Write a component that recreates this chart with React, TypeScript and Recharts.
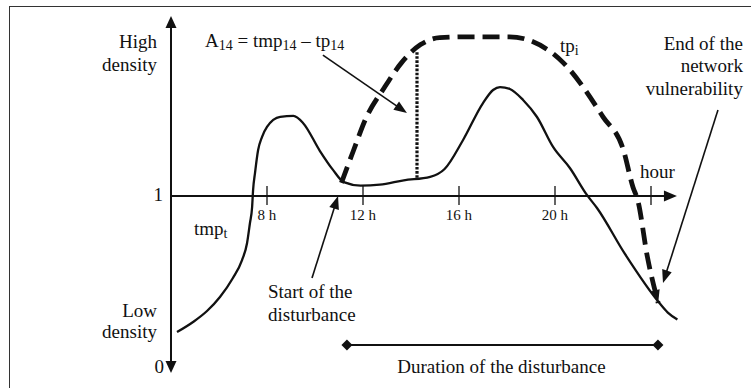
import React from "react";
import {
  LineChart,
  Line,
  XAxis,
  YAxis,
  ReferenceLine,
  ReferenceDot,
} from "recharts";

// tmp_t : observed density over the day (hour, density)
const tmpHours = [
  4.25, 4.92, 5.5, 6.04, 6.58, 6.96, 7.17, 7.29, 7.38, 7.42, 7.5, 7.63, 7.79,
  8.0, 8.55, 9.1, 9.5, 10.2, 10.75, 11.2, 11.9, 12.7, 13.7, 14.8, 15.4, 16.17,
  17.0, 17.42, 17.71, 18.12, 18.67, 19.25, 19.92, 20.62, 21.33, 21.75, 22.9,
  24.35, 24.7, 25.1,
];
const tmpValues = [
  0.218, 0.276, 0.339, 0.42, 0.529, 0.632, 0.73, 0.845, 0.937, 1.034, 1.132,
  1.264, 1.339, 1.397, 1.455, 1.46, 1.42, 1.26, 1.15, 1.08, 1.06, 1.065, 1.09,
  1.11, 1.155, 1.322, 1.534, 1.609, 1.626, 1.615, 1.552, 1.454, 1.282, 1.161,
  1.006, 0.931, 0.67, 0.385, 0.33, 0.29,
];

// tp_i : density during the disturbance
const tpHours = [
  11.1, 11.6, 12.1, 12.9, 13.6, 14.4, 15.2, 16.5, 18.1, 19.9, 20.35, 22.0,
  22.85, 23.25, 23.45, 23.85, 24.3,
];
const tpValues = [
  1.075, 1.26, 1.44, 1.625, 1.765, 1.87, 1.91, 1.915, 1.915, 1.82, 1.765,
  1.455, 1.265, 1.05, 0.975, 0.65, 0.385,
];

const tickHours = [8, 12, 16, 20, 24];
const tickLabels = ["8 h", "12 h", "16 h", "20 h", ""];

const tmpData = tmpHours.map((h, i) => ({ h, v: tmpValues[i] }));
const tpData = tpHours.map((h, i) => ({ h, v: tpValues[i] }));

const INK = "#111";
const FONT = "'Liberation Serif', 'Times New Roman', 'DejaVu Serif', serif";

type Head = "none" | "end" | "both" | "only";

// line with filled triangular heads, drawn from the segment the scales give us
const arrow = (head: Head, len = 12, wid = 9, sw = 1.6) => (p: any) => {
  const { x1, y1, x2, y2 } = p;
  const dx = x2 - x1;
  const dy = y2 - y1;
  const d = Math.hypot(dx, dy) || 1;
  const ux = dx / d;
  const uy = dy / d;
  const tri = (tx: number, ty: number, vx: number, vy: number) => {
    const bx = tx - vx * len;
    const by = ty - vy * len;
    const nx = -vy * (wid / 2);
    const ny = vx * (wid / 2);
    return `${tx},${ty} ${bx + nx},${by + ny} ${bx - nx},${by - ny}`;
  };
  const sx = head === "both" ? x1 + ux * len * 0.8 : x1;
  const sy = head === "both" ? y1 + uy * len * 0.8 : y1;
  const ex = head === "none" ? x2 : x2 - ux * len * 0.8;
  const ey = head === "none" ? y2 : y2 - uy * len * 0.8;
  return (
    <g>
      {head !== "only" && (
        <line x1={sx} y1={sy} x2={ex} y2={ey} stroke={INK} strokeWidth={sw} />
      )}
      {head !== "none" && <polygon points={tri(x2, y2, ux, uy)} fill={INK} />}
      {head === "both" && <polygon points={tri(x1, y1, -ux, -uy)} fill={INK} />}
    </g>
  );
};

const label =
  (content: React.ReactNode, anchor = "start", size = 19) =>
  (p: any) => (
    <text
      x={p.cx}
      y={p.cy}
      textAnchor={anchor}
      style={{ fontFamily: FONT, fontSize: size }}
      fill={INK}
    >
      {content}
    </text>
  );

const diamond = (p: any) => (
  <polygon
    points={`${p.cx},${p.cy - 5.5} ${p.cx + 5.5},${p.cy} ${p.cx},${p.cy + 5.5} ${p.cx - 5.5},${p.cy}`}
    fill={INK}
  />
);

const sub = (t: string) => (
  <tspan style={{ fontSize: 14 }} dy={3}>
    {t}
  </tspan>
);
const up = (t: string) => <tspan dy={-3}>{t}</tspan>;

export default function App() {
  return (
    <div
      style={{
        position: "absolute",
        left: 0,
        top: 0,
        width: 751,
        height: 388,
        background: "#fff",
        overflow: "hidden",
      }}
    >
      <div
        style={{
          position: "absolute",
          left: 9,
          top: 6,
          right: -4,
          bottom: -4,
          borderTop: "1.5px solid #333",
          borderLeft: "1.5px solid #333",
        }}
      />
      <LineChart
        width={751}
        height={388}
        margin={{ top: 0, right: 0, bottom: 0, left: 0 }}
        style={{ position: "absolute", left: 0, top: 0 }}
      >
        <XAxis
          type="number"
          dataKey="h"
          domain={[-3.125, 28.1667]}
          allowDataOverflow
          hide
        />
        <YAxis
          type="number"
          dataKey="v"
          domain={[-0.1034, 2.1264]}
          allowDataOverflow
          hide
        />

        {/* axes */}
        <ReferenceLine
          segment={[
            { x: 4, y: -0.017 },
            { x: 4, y: 2.034 },
          ]}
          shape={arrow("both", 12, 11, 2)}
        />
        <ReferenceLine
          segment={[
            { x: 4, y: 1 },
            { x: 25.08, y: 1 },
          ]}
          shape={arrow("end", 13, 11, 2)}
        />
        {tickHours.map((h) => (
          <ReferenceLine
            key={`t-${h}`}
            segment={[
              { x: h, y: 0.948 },
              { x: h, y: 1.057 },
            ]}
            stroke={INK}
            strokeWidth={1.3}
          />
        ))}

        <Line
          data={tmpData}
          dataKey="v"
          type="monotone"
          stroke={INK}
          strokeWidth={2.3}
          dot={false}
          activeDot={false}
          isAnimationActive={false}
        />
        <Line
          data={tpData}
          dataKey="v"
          type="monotone"
          stroke={INK}
          strokeWidth={4.8}
          strokeDasharray="17 8"
          dot={false}
          activeDot={false}
          isAnimationActive={false}
        />
        <ReferenceLine
          segment={[
            { x: tpHours[tpHours.length - 2], y: tpValues[tpValues.length - 2] },
            { x: tpHours[tpHours.length - 1], y: tpValues[tpValues.length - 1] },
          ]}
          shape={arrow("only", 13, 9)}
        />

        {/* A14 gap */}
        <ReferenceLine
          segment={[
            { x: 14.25, y: 1.105 },
            { x: 14.25, y: 1.83 },
          ]}
          stroke={INK}
          strokeWidth={3.2}
          strokeDasharray="2.6 1.5"
        />

        {/* annotation arrows */}
        <ReferenceLine
          segment={[
            { x: 10.33, y: 1.81 },
            { x: 13.83, y: 1.477 },
          ]}
          shape={arrow("end", 13, 10)}
        />
        <ReferenceLine
          segment={[
            { x: 9.875, y: 0.529 },
            { x: 10.96, y: 1.0 },
          ]}
          shape={arrow("end", 13, 10)}
        />
        <ReferenceLine
          segment={[
            { x: 26.79, y: 1.494 },
            { x: 24.5, y: 0.5 },
          ]}
          shape={arrow("end", 13, 10)}
        />

        {/* duration */}
        <ReferenceLine
          segment={[
            { x: 11.33, y: 0.1437 },
            { x: 24.29, y: 0.1437 },
          ]}
          stroke={INK}
          strokeWidth={2}
        />
        <ReferenceDot x={11.33} y={0.1437} shape={diamond} />
        <ReferenceDot x={24.29} y={0.1437} shape={diamond} />

        {/* tick labels */}
        {tickHours.map((h, i) => (
          <ReferenceDot
            key={`l-${h}`}
            x={h}
            y={0.862}
            shape={label(tickLabels[i], "middle", 15)}
          />
        ))}

        {/* texts */}
        <ReferenceDot x={3.417} y={1.851} shape={label("High", "end")} />
        <ReferenceDot x={3.417} y={1.718} shape={label("density", "end")} />
        <ReferenceDot x={3.667} y={0.971} shape={label("1", "end")} />
        <ReferenceDot x={3.417} y={0.305} shape={label("Low", "end")} />
        <ReferenceDot x={3.417} y={0.184} shape={label("density", "end")} />
        <ReferenceDot x={3.708} y={-0.017} shape={label("0", "end")} />
        <ReferenceDot
          x={5.417}
          y={1.856}
          shape={label(
            <>
              {"A"}
              {sub("14")}
              {up(" = tmp")}
              {sub("14")}
              {up(" – tp")}
              {sub("14")}
            </>,
          )}
        />
        <ReferenceDot
          x={20.21}
          y={1.828}
          shape={label(
            <>
              {"tp"}
              {sub("i")}
            </>,
          )}
        />
        <ReferenceDot x={27.83} y={1.839} shape={label("End of the", "end")} />
        <ReferenceDot x={27.83} y={1.71} shape={label("network", "end")} />
        <ReferenceDot
          x={27.83}
          y={1.58}
          shape={label("vulnerability", "end")}
        />
        <ReferenceDot x={23.54} y={1.103} shape={label("hour")} />
        <ReferenceDot
          x={4.958}
          y={0.776}
          shape={label(
            <>
              {"tmp"}
              {sub("t")}
            </>,
          )}
        />
        <ReferenceDot x={8.042} y={0.414} shape={label("Start of the")} />
        <ReferenceDot x={8.042} y={0.282} shape={label("disturbance")} />
        <ReferenceDot
          x={17.77}
          y={-0.017}
          shape={label("Duration of the disturbance", "middle")}
        />
      </LineChart>
    </div>
  );
}
